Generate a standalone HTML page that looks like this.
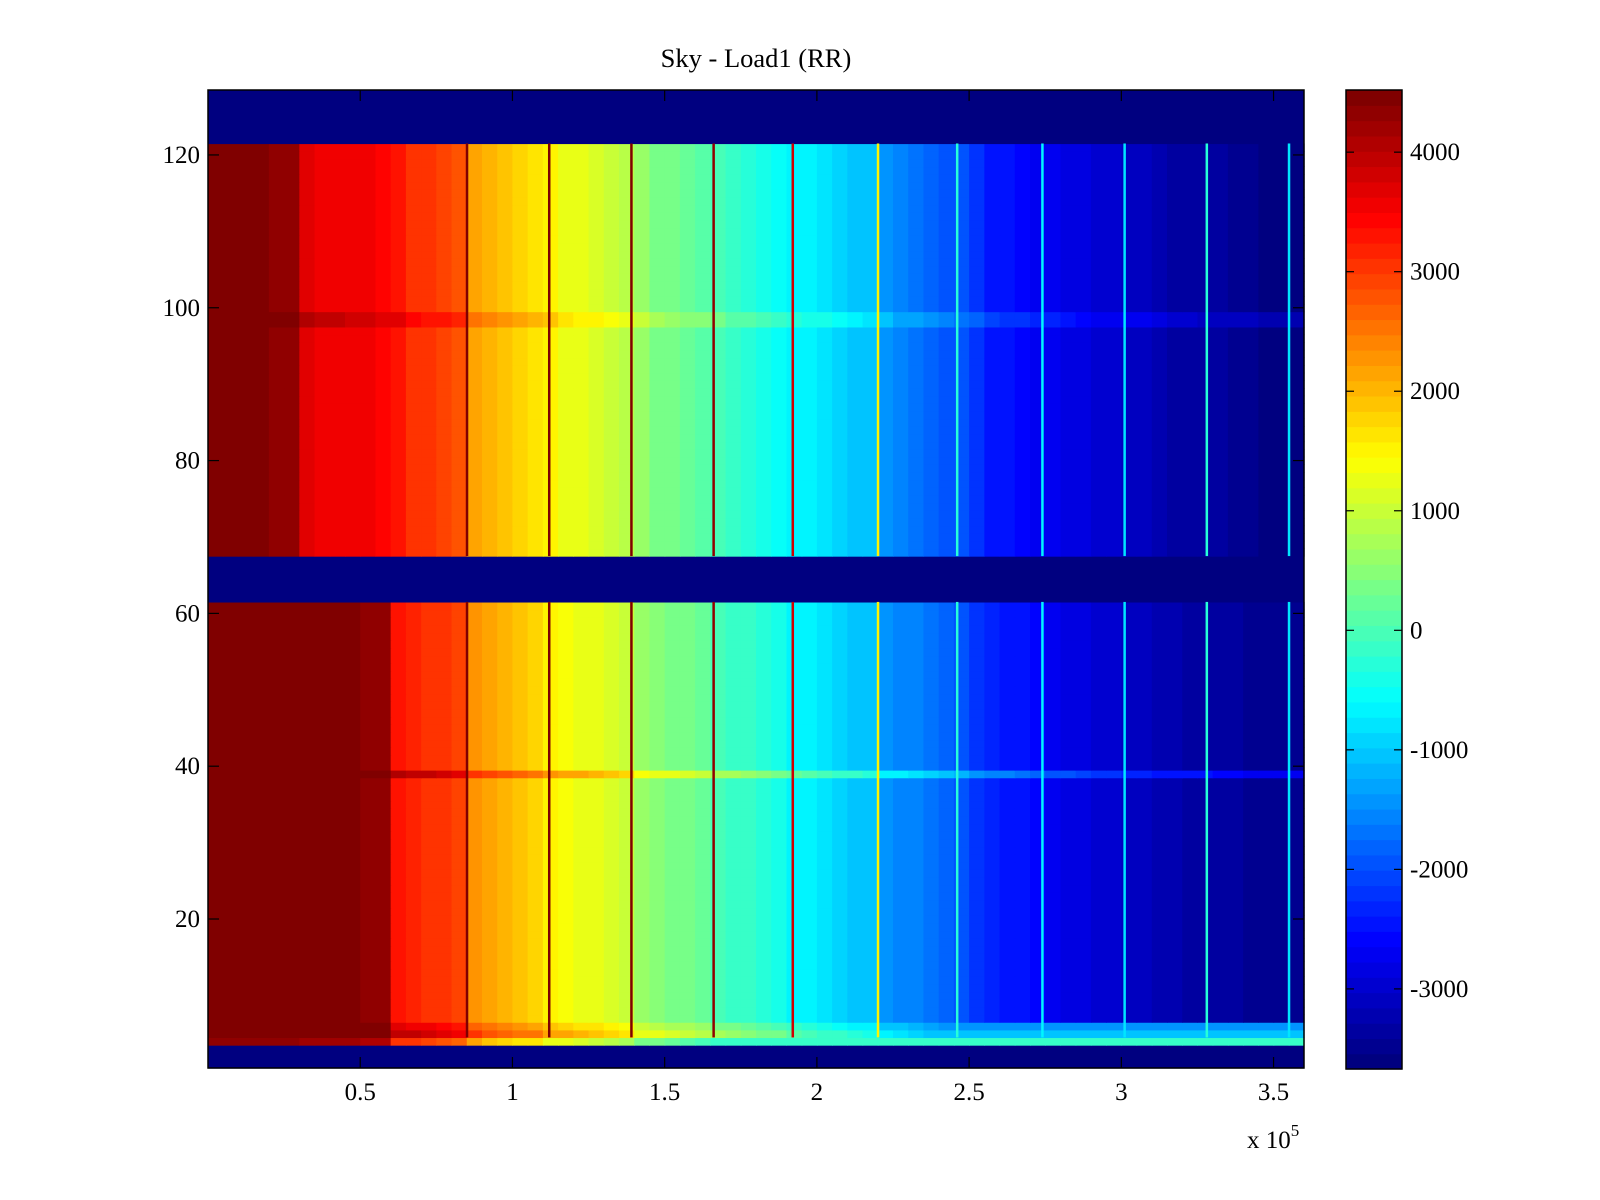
<!DOCTYPE html>
<html><head><meta charset="utf-8"><style>
html,body{margin:0;padding:0;background:#fff;}
svg{display:block;font-family:"Liberation Serif",serif;}
</style></head><body>
<svg id="chart" width="1600" height="1200" viewBox="0 0 1600 1200" xmlns="http://www.w3.org/2000/svg">
<text x="756" y="67" font-size="26.5" text-anchor="middle">Sky - Load1 (RR)</text>
<g id="cells"></g>
<g id="spikes"></g>
<rect x="208" y="90" width="1096" height="978" fill="none" stroke="#000" stroke-width="1.5"/>
<g id="axes"></g>
<g id="cbar"></g>
<text x="1247" y="1148" font-size="25">x 10<tspan dy="-12" font-size="17">5</tspan></text>
</svg>
<script>
// ---- data ----
const xTicks = [0.5, 1, 1.5, 2, 2.5, 3, 3.5];
const xTickLabels = ["0.5","1","1.5","2","2.5","3","3.5"];
const yTicks = [20, 40, 60, 80, 100, 120];
const cbTicks = [-3000,-2000,-1000,0,1000,2000,3000,4000];
const colStep = 5000;
const topValues = [4400,4400,4400,4400,4350,4300,3700,3600,3600,3500,3500,3400,3300,3100,3000,2900,2800,2200,2000,1900,1800,1700,1500,1300,1200,1100,1000,900,600,400,300,200,100,0,-200,-300,-400,-500,-600,-700,-800,-900,-1000,-1100,-1400,-1600,-1700,-1800,-1900,-2000,-2200,-2400,-2500,-2600,-2700,-2700,-2800,-2900,-3000,-3000,-3100,-3100,-3200,-3300,-3300,-3400,-3400,-3500,-3500,-3600,-3600,-3600];
const bottomValues = [4500,4500,4500,4500,4500,4500,4400,4400,4400,4400,4300,4300,3300,3200,3100,3000,2900,2300,2100,2000,1900,1800,1500,1400,1300,1200,1100,1000,600,500,400,300,200,0,-100,-200,-300,-400,-600,-700,-800,-900,-1000,-1100,-1400,-1500,-1600,-1700,-1800,-2000,-2200,-2300,-2400,-2500,-2600,-2700,-2800,-2900,-3000,-3000,-3100,-3100,-3200,-3200,-3300,-3300,-3400,-3400,-3500,-3500,-3500,-3500];
const emptyRows = [1,2,3,62,63,64,65,66,67,122,123,124,125,126,127,128];
const rowOffsetRows = [4,5,6,39,98,99];
const rowOffsetVals = [0,700,400,800,350,350];
const row4Value = 600;
const spikeX = [85000,112000,139000,166000,192000,220000,246000,274000,301000,328000,355000];
const spikeV = [4500,4500,4500,4300,3800,1500,-300,-600,-800,-300,-800];
const vMin = -3670, vMax = 4520;
// ---- scales ----
const X0=208, X1=1304, Y0=90, Y1=1068;
const xMax=360000;
const xs = v => X0 + v/xMax*(X1-X0);
const ys = v => Y1 - (v-0.5)/128*(Y1-Y0);
const NS="http://www.w3.org/2000/svg";
function jet(t){
  t=Math.max(0,Math.min(1,t));
  t=Math.floor(t*63.999)/63;
  const f=x=>Math.max(0,Math.min(1,x));
  const r=f(1.5-Math.abs(4*t-3)), g=f(1.5-Math.abs(4*t-2)), b=f(1.5-Math.abs(4*t-1));
  return `rgb(${Math.round(r*255)},${Math.round(g*255)},${Math.round(b*255)})`;
}
const col = v => jet((v-vMin)/(vMax-vMin));
const cells=document.getElementById('cells');
for(let r=1;r<=128;r++){
  const yTop=ys(r+0.5), yBot=ys(r-0.5);
  if(emptyRows.includes(r)){
    const e=document.createElementNS(NS,'rect');
    
    
    e.setAttribute('x',X0);e.setAttribute('y',yTop);e.setAttribute('width',X1-X0);e.setAttribute('height',yBot-yTop+0.6);
    e.setAttribute('fill',col(vMin));cells.appendChild(e);continue;
  }
  const arr = r>=68 ? topValues : bottomValues;
  const oi=rowOffsetRows.indexOf(r); const off = oi>=0?rowOffsetVals[oi]:0;
  for(let i=0;i<arr.length;i++){
    let v = r===4 ? Math.max(arr[i]-800, -800) + row4Value : arr[i]+off;
    if(r===5||r===6) v=Math.max(v, -1800+off);
    const e=document.createElementNS(NS,'rect');
    
    
    const xa=xs(i*colStep), xb=xs((i+1)*colStep);
    e.setAttribute('x',xa);e.setAttribute('y',yTop);e.setAttribute('width',xb-xa+0.6);e.setAttribute('height',yBot-yTop+0.6);
    e.setAttribute('fill',col(v));cells.appendChild(e);
  }
}
const spikes=document.getElementById('spikes');
spikeX.forEach((sx,k)=>{
  [[68,121],[5,61]].forEach(([a,b])=>{
    const e=document.createElementNS(NS,'rect');
    
    
    e.setAttribute('x',xs(sx)-1);e.setAttribute('y',ys(b+0.5));e.setAttribute('width',2.5);e.setAttribute('height',ys(a-0.5)-ys(b+0.5));
    e.setAttribute('fill',col(spikeV[k]));spikes.appendChild(e);
  });
});
const axes=document.getElementById('axes');
function line(g,x1,y1,x2,y2,name){const l=document.createElementNS(NS,'line');
  
  
  l.setAttribute('x1',x1);l.setAttribute('y1',y1);l.setAttribute('x2',x2);l.setAttribute('y2',y2);l.setAttribute('stroke','#000');l.setAttribute('stroke-width','1.2');g.appendChild(l);}
function text(g,x,y,s,anchor,name){const t=document.createElementNS(NS,'text');
  
  
  t.setAttribute('x',x);t.setAttribute('y',y);t.setAttribute('font-size','25');t.setAttribute('text-anchor',anchor);t.textContent=s;g.appendChild(t);}
xTicks.forEach((v,i)=>{const x=xs(v*1e5);line(axes,x,Y1,x,Y1-11,'x-tick');line(axes,x,Y0,x,Y0+11,'x-tick');text(axes,x,1100,xTickLabels[i],'middle','x-tick-label');});
yTicks.forEach(v=>{const y=ys(v);line(axes,X0,y,X0+11,y,'y-tick');line(axes,X1,y,X1-11,y,'y-tick');text(axes,200,y+8,String(v),'end','y-tick-label');});
// colorbar
const cb=document.getElementById('cbar');
const CX=1346,CW=56,CT=90,CB=1069;
for(let k=0;k<64;k++){const e=document.createElementNS(NS,'rect');
  
  
  const h=(CB-CT)/64;e.setAttribute('x',CX);e.setAttribute('y',CB-(k+1)*h);e.setAttribute('width',CW);e.setAttribute('height',h+0.6);
  e.setAttribute('fill',jet(k/63));cb.appendChild(e);}
const fr=document.createElementNS(NS,'rect');


fr.setAttribute('x',CX);fr.setAttribute('y',CT);fr.setAttribute('width',CW);fr.setAttribute('height',CB-CT);fr.setAttribute('fill','none');fr.setAttribute('stroke','#000');fr.setAttribute('stroke-width','1.5');cb.appendChild(fr);
const cy=v=>CB-(v-vMin)/(vMax-vMin)*(CB-CT);
cbTicks.forEach(v=>{const y=cy(v);line(cb,CX,y,CX+8,y,'colorbar-tick');line(cb,CX+CW,y,CX+CW-8,y,'colorbar-tick');text(cb,1410,y+8,String(v),'start','colorbar-tick-label');});
</script>
</body></html>
